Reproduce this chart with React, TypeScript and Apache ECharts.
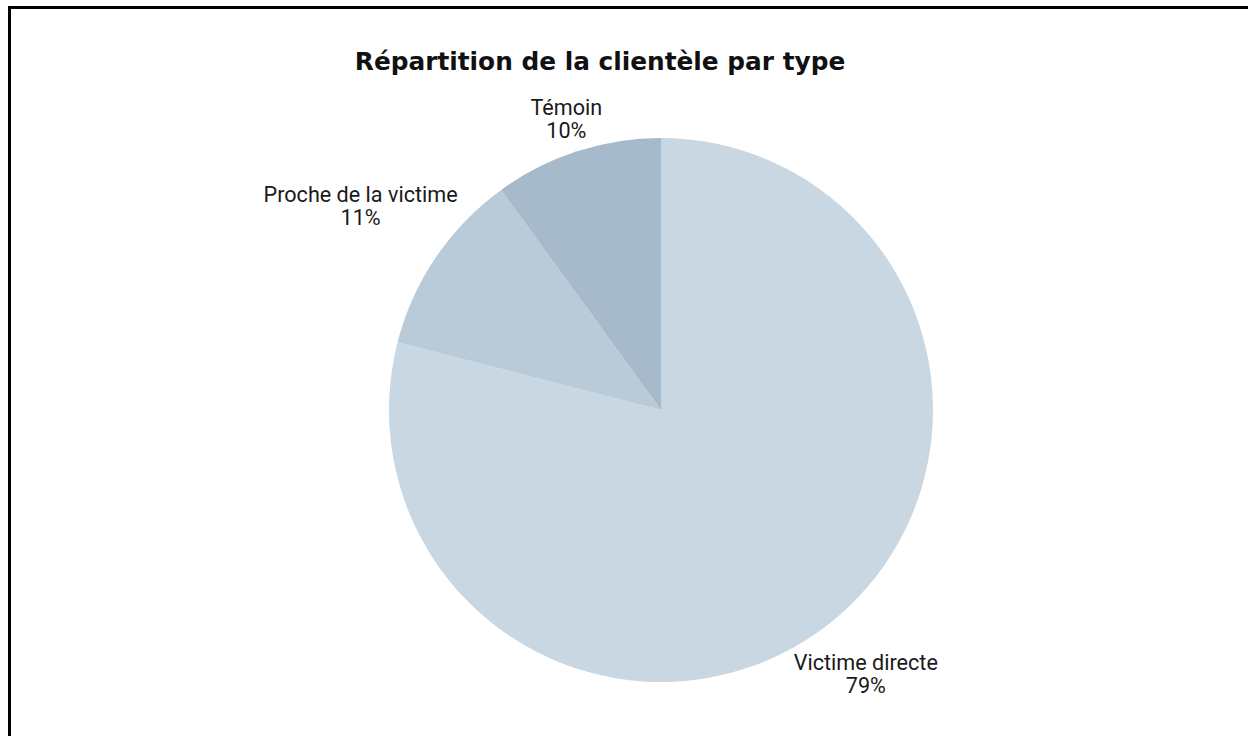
import React, { useEffect, useRef } from "react";
import * as echarts from "echarts";

const title = "Répartition de la clientèle par type";
const categories = ["Victime directe", "Proche de la victime", "Témoin"];
const values = [79, 11, 10];
const colors = ["#c9d7e2", "#b9cbd8", "#a6bacb"];

const CX = 661;
const CY = 410;
const R = 272;

export default function App() {
  const ref = useRef<HTMLDivElement>(null);
  useEffect(() => {
    if (!ref.current) return;
    const chart = echarts.init(ref.current, null, { renderer: "svg" });
    const total = values.reduce((a, b) => a + b, 0);
    const mids: number[] = [];
    let cum = 0;
    values.forEach((v) => {
      mids.push(((90 - (360 * (cum + v / 2)) / total) * Math.PI) / 180);
      cum += v;
    });
    chart.setOption({
      animation: false,
      backgroundColor: "#ffffff",
      graphic: [
        {
          type: "text",
          x: 600,
          y: 61,
          style: {
            text: title,
            align: "center",
            verticalAlign: "middle",
            fontFamily: "'DejaVu Sans', sans-serif",
            fontWeight: 700,
            fontSize: 24.8,
            fill: "#111111",
          },
        },
      ],
      series: [
        {
          type: "pie",
          center: [CX, CY],
          radius: [0, R],
          startAngle: 90,
          clockwise: true,
          avoidLabelOverlap: false,
          data: categories.map((c, i) => ({
            name: c,
            value: values[i],
            itemStyle: { color: colors[i] },
          })),
          itemStyle: { borderWidth: 0 },
          emphasis: { disabled: true },
          label: {
            show: true,
            position: "outside",
            formatter: (p: any) => `${p.name}\n${Math.round(p.percent)}%`,
            fontFamily: "Roboto, sans-serif",
            fontSize: 21.6,
            lineHeight: 23,
            color: "#1a1a1a",
            align: "center",
          },
          labelLine: { show: false },
          labelLayout: (params: any) => {
            const a = mids[params.dataIndex];
            const ux = Math.cos(a);
            const uy = -Math.sin(a);
            const w = params.labelRect.width;
            const h = params.labelRect.height;
            const d = R + 2 + 0.95 * Math.abs(ux) * (w / 2) + Math.abs(uy) * (h / 2);
            return {
              x: CX + d * ux,
              y: CY + d * uy,
              align: "center",
              verticalAlign: "middle",
            };
          },
        },
      ],
    });
    return () => chart.dispose();
  }, []);
  return (
    <>
      <div
        ref={ref}
        style={{ position: "fixed", left: 0, top: 0, width: 1248, height: 736 }}
      />
      <div
        style={{
          position: "fixed",
          left: 8,
          top: 6,
          width: 1400,
          height: 900,
          border: "3px solid #000",
          boxSizing: "border-box",
          pointerEvents: "none",
        }}
      />
    </>
  );
}
